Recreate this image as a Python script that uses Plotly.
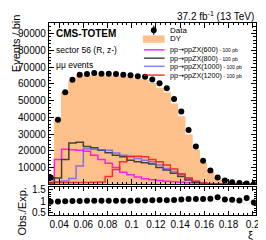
import math
import plotly.graph_objects as go

# ---------------- data ----------------
bin_edges = [0.030, 0.036, 0.042, 0.048, 0.054, 0.060, 0.066, 0.072, 0.078, 0.084,
             0.090, 0.096, 0.102, 0.108, 0.114, 0.120, 0.126, 0.132, 0.138, 0.144,
             0.150, 0.156, 0.162, 0.168, 0.174, 0.180, 0.186, 0.192, 0.198, 0.204]

data_counts = [4100, 38600, 55000, 62400, 65500, 65900, 66500, 66100, 66100, 65900,
               65500, 65100, 64500, 64200, 62600, 60300, 57300, 50900, 43500, 32400,
               22600, 14000, 8200, 4100, 2300, 1200, 800, 400, 200]

dy_counts = [4200, 38800, 55000, 61800, 64900, 64600, 65200, 64800, 64800, 64600,
             64200, 63800, 62600, 62300, 60200, 57400, 54600, 48000, 40300, 29500,
             20500, 12700, 7400, 3500, 2130, 1120, 770, 350, 210]

dy_rel_unc = [0.01, 0.005, 0.005, 0.005, 0.005, 0.005, 0.005, 0.005, 0.005, 0.005,
              0.005, 0.005, 0.005, 0.005, 0.005, 0.006, 0.006, 0.007, 0.008, 0.01,
              0.012, 0.015, 0.02, 0.03, 0.04, 0.06, 0.08, 0.10, 0.12]

sig_600 = [500, 14800, 20900, 20700, 20300, 19700, 17400, 14800, 12500, 10100,
           7200, 5700, 4300, 3300, 2700, 2200, 1800, 1500, 1200, 900,
           700, 500, 400, 300, 200, 150, 100, 80, 50]

sig_800 = [1000, 3700, 14800, 24600, 25100, 22600, 21800, 20300, 18900, 17400,
           16400, 14400, 13500, 12900, 12100, 10100, 8600, 6600, 4700, 2500,
           1200, 500, 250, 120, 80, 50, 30, 20, 10]

sig_1000 = [500, 1500, 2000, 3500, 10900, 21200, 21000, 20600, 20300, 18700,
            17400, 16400, 15400, 14400, 13500, 11500, 9500, 7600, 5700, 3500,
            1800, 800, 300, 150, 80, 50, 30, 20, 10]

sig_1200 = [800, 1000, 1000, 1000, 1000, 1100, 1200, 1300, 4700, 8900,
            13500, 16800, 16800, 16400, 14800, 13500, 11500, 9200, 6300, 3700,
            1800, 800, 300, 150, 80, 50, 30, 20, 10]

y_main_ticks = [10000, 20000, 30000, 40000, 50000, 60000, 70000, 80000, 90000]
y_ratio_ticks = [0.5, 1, 1.5]
x_ticks = [0.04, 0.06, 0.08, 0.1, 0.12, 0.14, 0.16, 0.18, 0.2]
x_tick_text = ["0.04", "0.06", "0.08", "0.1", "0.12", "0.14", "0.16", "0.18", "0.2"]

# ---------------- derived ----------------
centers = [(bin_edges[i] + bin_edges[i + 1]) / 2 for i in range(len(data_counts))]
data_err = [math.sqrt(v) for v in data_counts]
ratio = [d / m for d, m in zip(data_counts, dy_counts)]
ratio_err = [math.sqrt(d) / m for d, m in zip(data_counts, dy_counts)]
widths = [bin_edges[i + 1] - bin_edges[i] for i in range(len(data_counts))]


def step_y(vals):
    return list(vals) + [vals[-1]]


W, H = 266, 240
FONT = "Liberation Sans, Arial, Helvetica, DejaVu Sans, sans-serif"


def px(x):
    return x / W


def py(y):
    return 1 - y / H


DY_COLOR = "#fdc08a"
C600 = "rgba(255,0,255,0.85)"
C800 = "rgba(40,40,40,0.85)"
C1000 = "rgba(90,90,255,0.75)"
C1200 = "rgba(255,20,20,0.85)"

fig = go.Figure()

fig.add_trace(go.Scatter(x=bin_edges, y=step_y(dy_counts), mode="lines", line_shape="hv",
                         line=dict(color=DY_COLOR, width=1), fill="tozeroy",
                         fillcolor=DY_COLOR, xaxis="x", yaxis="y", showlegend=False,
                         hoverinfo="skip"))

for vals, col in [(sig_600, C600), (sig_800, C800), (sig_1000, C1000), (sig_1200, C1200)]:
    fig.add_trace(go.Scatter(x=bin_edges, y=step_y(vals), mode="lines", line_shape="hv",
                             line=dict(color=col, width=1.5), xaxis="x", yaxis="y",
                             showlegend=False, hoverinfo="skip"))

fig.add_trace(go.Scatter(x=centers, y=data_counts, mode="markers",
                         marker=dict(color="black", size=6),
                         error_y=dict(type="data", array=data_err, color="black",
                                      thickness=1, width=0),
                         xaxis="x", yaxis="y", showlegend=False))

fig.add_trace(go.Bar(x=centers, y=[2 * u for u in dy_rel_unc],
                     base=[1 - u for u in dy_rel_unc], width=widths,
                     marker=dict(color="rgba(0,0,0,0)", line=dict(width=0),
                                 pattern=dict(shape="x", fgcolor="#777777",
                                              bgcolor="rgba(0,0,0,0)", size=3,
                                              solidity=0.3)),
                     xaxis="x2", yaxis="y2", showlegend=False, hoverinfo="skip"))

fig.add_trace(go.Scatter(x=centers, y=ratio, mode="markers",
                         marker=dict(color="black", size=6),
                         error_y=dict(type="data", array=ratio_err, color="black",
                                      thickness=1, width=0),
                         xaxis="x2", yaxis="y2", showlegend=False))

dom_x = [px(41.5), px(251.5)]
axis_common = dict(showline=True, linecolor="black", linewidth=1, mirror="allticks",
                   ticks="inside", tickcolor="black", showgrid=False, zeroline=False,
                   tickfont=dict(family=FONT, size=10, color="black"))

fig.update_layout(
    width=W, height=H,
    margin=dict(l=0, r=0, t=0, b=0),
    paper_bgcolor="white", plot_bgcolor="white",
    bargap=0,
    xaxis=dict(domain=dom_x, range=[0.0315, 0.2025], anchor="y",
               tickvals=x_ticks, showticklabels=False, ticklen=5,
               minor=dict(dtick=0.004, tick0=0, ticklen=2.5, ticks="inside",
                          tickcolor="black", showgrid=False),
               **axis_common),
    yaxis=dict(domain=[py(178), py(13)], range=[0, 96500], anchor="x",
               tickvals=y_main_ticks, ticktext=[str(v) for v in y_main_ticks],
               ticklen=5,
               minor=dict(dtick=2000, tick0=0, ticklen=2.5, ticks="inside",
                          tickcolor="black", showgrid=False),
               **axis_common),
    xaxis2=dict(domain=dom_x, range=[0.0315, 0.2025], anchor="y2", matches="x",
                tickvals=x_ticks, ticktext=x_tick_text, showticklabels=True,
                ticklen=4,
                minor=dict(dtick=0.004, tick0=0, ticklen=2, ticks="inside",
                           tickcolor="black", showgrid=False),
                **axis_common),
    yaxis2=dict(domain=[py(209.5), py(180.5)], range=[0.40, 1.63], anchor="x2",
                tickvals=y_ratio_ticks, ticktext=["0.5", "1", "1.5"], ticklen=4,
                minor=dict(dtick=0.1, tick0=0, ticklen=2, ticks="inside",
                           tickcolor="black", showgrid=False),
                **axis_common),
)

ann = []


def add_text(x, y, text, size, xanchor="left", yanchor="middle", angle=0, family=FONT):
    ann.append(dict(x=px(x), y=py(y), xref="paper", yref="paper", text=text,
                    showarrow=False, xanchor=xanchor, yanchor=yanchor, textangle=angle,
                    font=dict(family=family, size=size, color="black")))


add_text(252, 6, "37.2 fb<sup>-1</sup> (13 TeV)", 10, xanchor="right")
add_text(47, 24, "<b>CMS-TOTEM</b>", 10)
add_text(47, 41, "sector 56 (R, z-)", 8.5)
add_text(47, 56, "μμ events", 8.5)
add_text(8, 34, "Events / bin", 11, xanchor="center", angle=-90)
add_text(14, 206, "Obs./Exp.", 11, xanchor="center", angle=-90)
add_text(246, 230, "ξ", 11, xanchor="center")

shapes = []
shapes.append(dict(type="line", xref="paper", yref="paper", x0=px(148), x1=px(148),
                   y0=py(16), y1=py(25.5), line=dict(color="black", width=1)))
shapes.append(dict(type="circle", xref="paper", yref="paper", x0=px(145), x1=px(151),
                   y0=py(17.7), y1=py(23.7), fillcolor="black", line=dict(color="black", width=0)))
add_text(162, 20.7, "Data", 8)
shapes.append(dict(type="rect", xref="paper", yref="paper", x0=px(137), x1=px(159),
                   y0=py(33.5), y1=py(26), fillcolor=DY_COLOR, line=dict(color=DY_COLOR, width=0)))
add_text(162, 29.5, "DY", 8)

leg = [(40.7, C600, "600"), (49.2, C800, "800"), (57.5, C1000, "1000"), (66.5, C1200, "1200")]
for yy, col, mass in leg:
    shapes.append(dict(type="line", xref="paper", yref="paper", x0=px(138), x1=px(159),
                       y0=py(yy), y1=py(yy), line=dict(color=col, width=1.5)))
    add_text(162, yy,
             "pp<span style='font-family:DejaVu Sans'>→</span>ppZX(%s)"
             "<span style='font-size:5px'> - 100 pb</span>" % mass, 7.2)

fig.update_layout(annotations=ann, shapes=shapes)

fig.write_html("out.html")
